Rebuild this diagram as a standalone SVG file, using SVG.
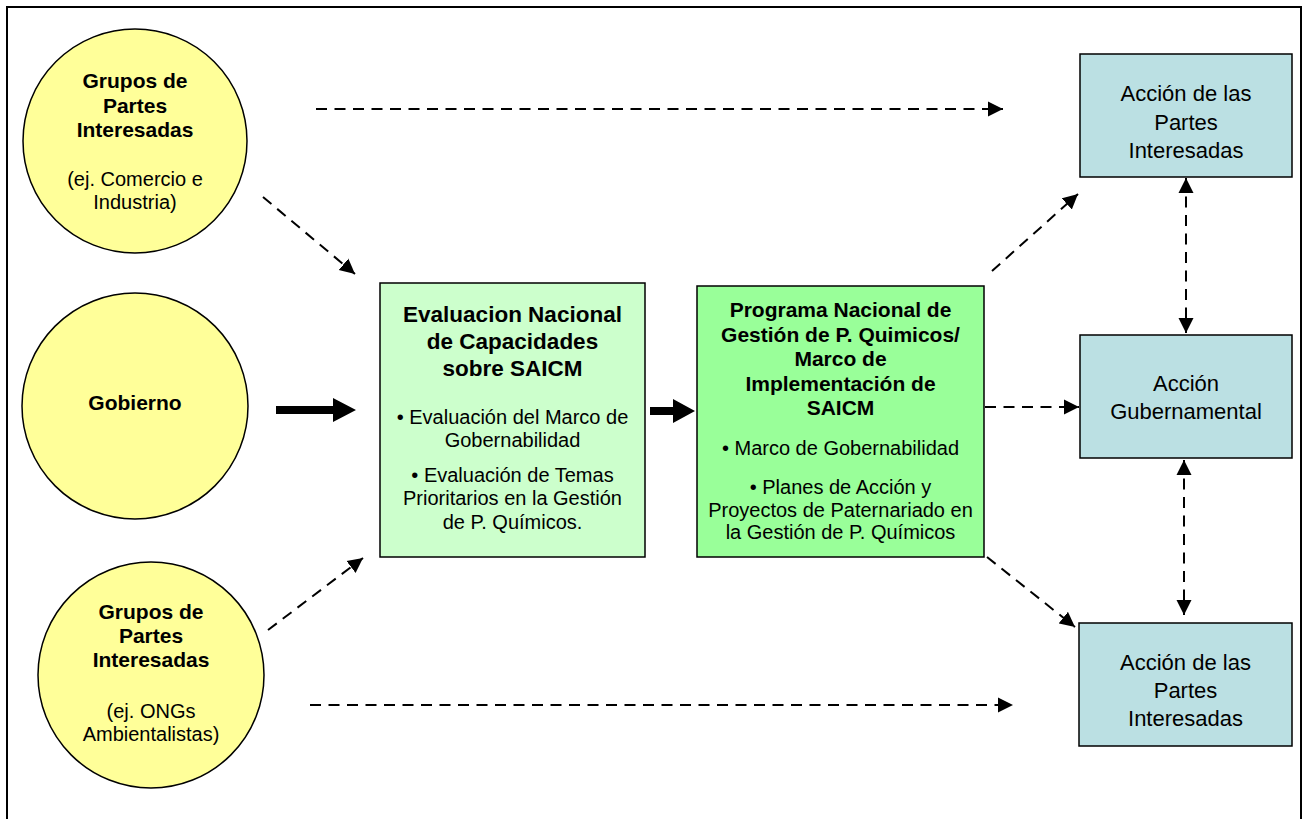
<svg xmlns="http://www.w3.org/2000/svg" width="1305" height="819" viewBox="0 0 1305 819">
<style>
.t{font-family:"Liberation Sans",Arial,sans-serif;fill:#000;text-anchor:middle}
.b{font-weight:bold;font-size:21px}
.r{font-size:20px}
.rr{font-size:22px}
.circ{fill:#ffff99;stroke:#000;stroke-width:1.5}
.bx{stroke:#000;stroke-width:1.5}
.d{fill:none;stroke:#000;stroke-width:2;stroke-dasharray:11 7.5}
</style>
<defs>
<marker id="ah" markerUnits="userSpaceOnUse" markerWidth="16" markerHeight="16" viewBox="0 0 16 16" refX="15" refY="8" orient="auto-start-reverse">
<path d="M0,0.5 L15,8 L0,15.5 Z" fill="#000"/>
</marker>
</defs>
<rect width="1305" height="819" fill="#fff"/>
<rect x="7" y="7" width="1294" height="830" fill="none" stroke="#000" stroke-width="2"/>

<g id="grupos1">
<circle class="circ" cx="135" cy="141" r="112"/>
<text class="t b" x="135" y="88">Grupos de</text>
<text class="t b" x="135" y="113">Partes</text>
<text class="t b" x="135" y="137">Interesadas</text>
<text class="t r" x="135" y="186">(ej. Comercio e</text>
<text class="t r" x="135" y="209">Industria)</text>
</g>

<g id="gobierno">
<circle class="circ" cx="135" cy="406" r="113"/>
<text class="t b" x="135" y="410">Gobierno</text>
</g>

<g id="grupos2">
<circle class="circ" cx="151" cy="675" r="113"/>
<text class="t b" x="151" y="619">Grupos de</text>
<text class="t b" x="151" y="643">Partes</text>
<text class="t b" x="151" y="667">Interesadas</text>
<text class="t r" x="151" y="718">(ej. ONGs</text>
<text class="t r" x="151" y="741">Ambientalistas)</text>
</g>

<g id="evaluacion">
<rect class="bx" x="380" y="283" width="265" height="274" fill="#ccffcc"/>
<text class="t b" x="512.5" y="322" style="font-size:22.5px">Evaluacion Nacional</text>
<text class="t b" x="512.5" y="349" style="font-size:22.5px">de Capacidades</text>
<text class="t b" x="512.5" y="376" style="font-size:22.5px">sobre SAICM</text>
<text class="t r" x="512.5" y="424">• Evaluación del Marco de</text>
<text class="t r" x="512.5" y="447">Gobernabilidad</text>
<text class="t r" x="512.5" y="482">• Evaluación de Temas</text>
<text class="t r" x="512.5" y="505">Prioritarios en la Gestión</text>
<text class="t r" x="512.5" y="529">de P. Químicos.</text>
</g>

<g id="programa">
<rect class="bx" x="697" y="286" width="287" height="271" fill="#99ff99"/>
<text class="t b" x="840.5" y="317">Programa Nacional de</text>
<text class="t b" x="840.5" y="342">Gestión de P. Quimicos/</text>
<text class="t b" x="840.5" y="366">Marco de</text>
<text class="t b" x="840.5" y="391">Implementación de</text>
<text class="t b" x="840.5" y="415">SAICM</text>
<text class="t r" x="840.5" y="455">• Marco de Gobernabilidad</text>
<text class="t r" x="840.5" y="494">• Planes de Acción y</text>
<text class="t r" x="840.5" y="517">Proyectos de Paternariado en</text>
<text class="t r" x="840.5" y="539">la Gestión de P. Químicos</text>
</g>

<g id="accion1">
<rect class="bx" x="1080" y="54" width="212" height="123" fill="#bbe0e3"/>
<text class="t rr" x="1186" y="101">Acción de las</text>
<text class="t rr" x="1186" y="130">Partes</text>
<text class="t rr" x="1186" y="158">Interesadas</text>
</g>

<g id="accionGob">
<rect class="bx" x="1080" y="335" width="212" height="123" fill="#bbe0e3"/>
<text class="t rr" x="1186" y="391">Acción</text>
<text class="t rr" x="1186" y="419">Gubernamental</text>
</g>

<g id="accion2">
<rect class="bx" x="1079" y="623" width="213" height="123" fill="#bbe0e3"/>
<text class="t rr" x="1185.5" y="670">Acción de las</text>
<text class="t rr" x="1185.5" y="698">Partes</text>
<text class="t rr" x="1185.5" y="726">Interesadas</text>
</g>

<g id="connectors">
<path class="d" d="M316,109 L1003,109" marker-end="url(#ah)"/>
<path class="d" d="M310,705 L1013,705" marker-end="url(#ah)"/>
<path class="d" d="M263,197 L355,274" marker-end="url(#ah)"/>
<path class="d" d="M268,630 L363,558" marker-end="url(#ah)"/>
<path class="d" d="M985,407 L1079,407" marker-end="url(#ah)"/>
<path class="d" d="M992,271 L1078,194" marker-end="url(#ah)"/>
<path class="d" d="M987,557 L1075,627" marker-end="url(#ah)"/>
<path class="d" d="M1186,178 L1186,333" marker-start="url(#ah)" marker-end="url(#ah)"/>
<path class="d" d="M1184,460 L1184,615" marker-start="url(#ah)" marker-end="url(#ah)"/>
<polygon points="276,406 333,406 333,398 356,410 333,422 333,414 276,414" fill="#000"/>
<polygon points="650,407 673,407 673,399 695,411 673,423 673,415 650,415" fill="#000"/>
</g>
</svg>
